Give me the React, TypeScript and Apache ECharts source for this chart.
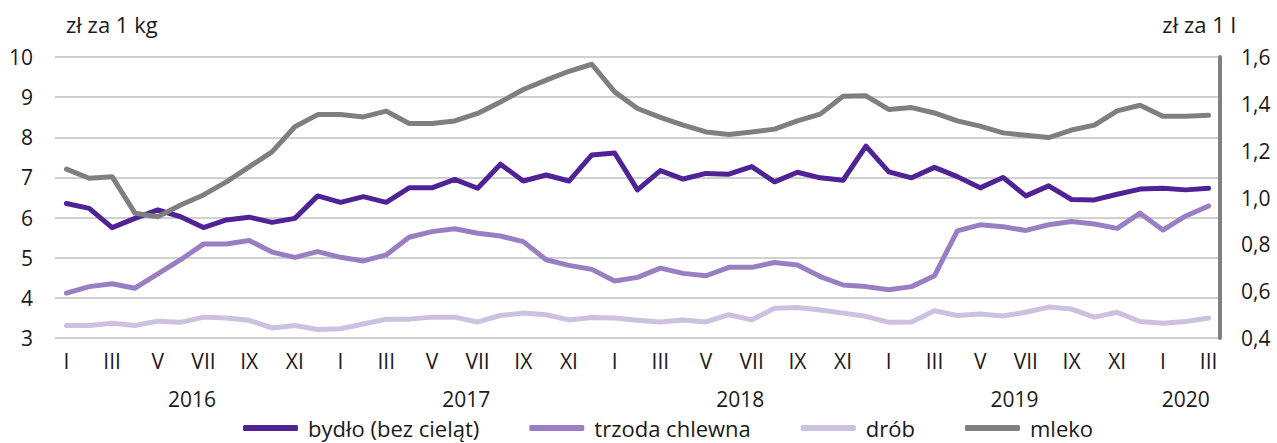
import React, { useEffect, useRef } from "react";
import * as echarts from "echarts";

const monthLabels = ["I","II","III","IV","V","VI","VII","VIII","IX","X","XI","XII"];
const years = ["2016", "2017", "2018", "2019", "2020"];
const yearCenters = [5.5, 17.5, 29.5, 41.5, 49];

const bydlo = [
  6.35, 6.23, 5.75, 5.98, 6.19, 6.02, 5.75, 5.94, 6.01, 5.88, 5.98, 6.54,
  6.38, 6.52, 6.38, 6.74, 6.74, 6.95, 6.73, 7.33, 6.91, 7.06, 6.91, 7.56,
  7.61, 6.69, 7.17, 6.96, 7.10, 7.08, 7.27, 6.89, 7.13, 6.99, 6.93, 7.78,
  7.14, 6.99, 7.25, 7.02, 6.74, 7.00, 6.54, 6.79, 6.45, 6.44, 6.58, 6.71,
  6.73, 6.69, 6.73,
];
const trzoda = [
  4.12, 4.28, 4.35, 4.24, 4.60, 4.95, 5.34, 5.34, 5.43, 5.14, 5.01, 5.15,
  5.01, 4.92, 5.07, 5.51, 5.65, 5.72, 5.61, 5.54, 5.40, 4.95, 4.81, 4.71,
  4.42, 4.51, 4.74, 4.61, 4.55, 4.76, 4.76, 4.88, 4.82, 4.53, 4.32, 4.28,
  4.20, 4.28, 4.55, 5.67, 5.82, 5.77, 5.68, 5.82, 5.90, 5.84, 5.73, 6.11,
  5.69, 6.04, 6.29,
];
const drob = [
  3.31, 3.31, 3.37, 3.31, 3.42, 3.39, 3.52, 3.50, 3.44, 3.25, 3.31, 3.21,
  3.23, 3.35, 3.47, 3.47, 3.52, 3.52, 3.40, 3.56, 3.62, 3.58, 3.45, 3.51,
  3.50, 3.44, 3.40, 3.45, 3.40, 3.58, 3.45, 3.74, 3.76, 3.70, 3.62, 3.54,
  3.39, 3.40, 3.68, 3.56, 3.60, 3.55, 3.64, 3.77, 3.72, 3.52, 3.64, 3.41,
  3.37, 3.41, 3.50,
];
const mleko = [
  1.121, 1.082, 1.089, 0.933, 0.918, 0.968, 1.011, 1.067, 1.131, 1.195, 1.302, 1.354,
  1.354, 1.344, 1.369, 1.316, 1.316, 1.327, 1.359, 1.408, 1.461, 1.501, 1.539, 1.569,
  1.451, 1.380, 1.342, 1.309, 1.280, 1.269, 1.280, 1.292, 1.327, 1.356, 1.432, 1.434,
  1.376, 1.384, 1.361, 1.327, 1.305, 1.276, 1.266, 1.256, 1.288, 1.309, 1.370, 1.394,
  1.347, 1.347, 1.351,
];

const categories = bydlo.map((_, i) => monthLabels[i % 12]);

const FONT = "'Open Sans', 'Noto Sans', sans-serif";
const TXT = "#1a1a1a";

export default function App() {
  const ref = useRef<HTMLDivElement>(null);
  useEffect(() => {
    if (!ref.current) return;
    const chart = echarts.init(ref.current, undefined, { renderer: "svg" });
    const mk = (name: string, data: number[], color: string, yAxisIndex = 0) => ({
      name,
      type: "line",
      data,
      yAxisIndex,
      xAxisIndex: 0,
      symbol: "none",
      lineStyle: { color, width: 5, cap: "round", join: "round" },
      itemStyle: { color },
    });
    chart.setOption({
      animation: false,
      textStyle: { fontFamily: FONT },
      grid: { left: 55, right: 57, top: 57, bottom: 105 },
      graphic: [
        { type: "text", left: 66, top: 13, style: { text: "zł za 1 kg", font: `22px ${FONT}`, fill: TXT } },
        { type: "text", right: 41, top: 13, style: { text: "zł za 1 l", font: `22px ${FONT}`, fill: TXT } },
      ],
      legend: {
        bottom: -1,
        left: 238,
        itemWidth: 55,
        itemHeight: 6,
        itemGap: 50,
        icon: "roundRect",
        textStyle: { fontFamily: FONT, fontSize: 22, color: TXT, padding: [0, 0, 0, 5] },
        data: ["bydło (bez cieląt)", "trzoda chlewna", "drób", "mleko"],
      },
      xAxis: [
        {
          type: "category",
          data: categories,
          boundaryGap: true,
          axisLine: { show: false },
          axisTick: { show: false },
          axisLabel: { interval: 1, fontSize: 21, color: TXT, fontFamily: FONT, margin: 12 },
        },
        {
          type: "value",
          min: -0.5,
          max: 50.5,
          position: "bottom",
          offset: 38,
          axisLine: { show: false },
          axisTick: { show: false },
          splitLine: { show: false },
          axisLabel: {
            customValues: yearCenters,
            fontSize: 21,
            color: TXT,
            fontFamily: FONT,
            margin: 12,
            formatter: (v: number) => {
              const idx = yearCenters.indexOf(v);
              return idx >= 0 ? years[idx] : "";
            },
          },
        },
      ],
      yAxis: [
        {
          type: "value",
          min: 3,
          max: 10,
          interval: 1,
          axisLine: { show: false },
          axisTick: { show: false },
          splitLine: { lineStyle: { color: "#c0c0c0", width: 1.5 } },
          axisLabel: { fontSize: 21, color: TXT, fontFamily: FONT, margin: 22 },
        },
        {
          type: "value",
          min: 0.4,
          max: 1.6,
          interval: 0.2,
          position: "right",
          axisLine: { show: true, lineStyle: { color: "#808080", width: 4 } },
          axisTick: { show: false },
          splitLine: { show: false },
          axisLabel: {
            fontSize: 21,
            color: TXT,
            fontFamily: FONT,
            margin: 21,
            formatter: (v: number) => v.toFixed(1).replace(".", ","),
          },
        },
      ],
      series: [
        mk("bydło (bez cieląt)", bydlo, "#4f2396"),
        mk("trzoda chlewna", trzoda, "#9a7ec4"),
        mk("drób", drob, "#ccc1de"),
        mk("mleko", mleko, "#7f7f7f", 1),
      ],
    });
    return () => chart.dispose();
  }, []);
  return (
    <div
      ref={ref}
      style={{ position: "absolute", left: 0, top: 0, width: 1277, height: 443 }}
    />
  );
}
